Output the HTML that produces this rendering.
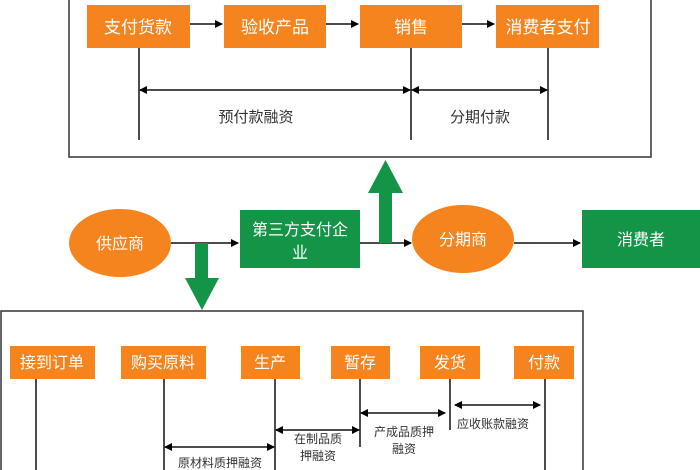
<!DOCTYPE html><html><head><meta charset="utf-8"><style>body{margin:0;background:#fff}svg{display:block}text{font-family:"Liberation Sans","Noto Sans CJK SC",sans-serif}</style></head><body>
<svg width="700" height="470" viewBox="0 0 700 470" xmlns="http://www.w3.org/2000/svg">
<defs><marker id="a" markerWidth="8" markerHeight="8" refX="7" refY="4" orient="auto-start-reverse" markerUnits="userSpaceOnUse"><path d="M0,0 L8,4 L0,8 Z" fill="#000"/></marker></defs>
<rect x="69" y="-5" width="582" height="162" fill="none" stroke="#333" stroke-width="1.5"/>
<g fill="#F5841F"><rect x="87" y="5" width="103" height="43"/><rect x="224" y="5" width="102" height="43"/><rect x="360" y="5" width="102" height="43"/><rect x="496" y="5" width="103" height="43"/></g>
<g fill="#fff" font-size="17" text-anchor="middle"><text x="138" y="33">支付货款</text><text x="275" y="33">验收产品</text><text x="411" y="33">销售</text><text x="548" y="33">消费者支付</text></g>
<g stroke="#111" stroke-width="1.5" fill="none"><line x1="190" y1="24" x2="222" y2="24" marker-end="url(#a)"/><line x1="326" y1="24" x2="358" y2="24" marker-end="url(#a)"/><line x1="462" y1="24" x2="494" y2="24" marker-end="url(#a)"/>
<line x1="139" y1="48" x2="139" y2="140"/><line x1="411" y1="48" x2="411" y2="140"/><line x1="548" y1="48" x2="548" y2="140"/>
<line x1="140" y1="90" x2="410" y2="90" marker-start="url(#a)" marker-end="url(#a)"/><line x1="412" y1="90" x2="547" y2="90" marker-start="url(#a)" marker-end="url(#a)"/></g>
<g fill="#333" font-size="15" text-anchor="middle"><text x="256" y="122">预付款融资</text><text x="480" y="122">分期付款</text></g>
<g stroke="#111" stroke-width="1.5"><line x1="171" y1="243" x2="238" y2="243" marker-end="url(#a)"/><line x1="360" y1="243" x2="411" y2="243" marker-end="url(#a)"/><line x1="514" y1="243" x2="580" y2="243" marker-end="url(#a)"/></g>
<ellipse cx="120" cy="243" rx="51" ry="34" fill="#F5841F"/><ellipse cx="463" cy="239" rx="51" ry="34" fill="#F5841F"/>
<rect x="240" y="210" width="120" height="58" fill="#139447"/><rect x="582" y="210" width="118" height="58" fill="#139447"/>
<path d="M379,243 L379,193 L368,193 L385.5,160 L403,193 L392,193 L392,243 Z" fill="#139447"/>
<path d="M195,243 L195,278 L185,278 L202,310 L219,278 L208,278 L208,243 Z" fill="#139447"/>
<g fill="#fff" font-size="16" text-anchor="middle"><text x="120" y="249">供应商</text><text x="300" y="235">第三方支付企</text><text x="300" y="258">业</text><text x="463" y="245">分期商</text><text x="641" y="245">消费者</text></g>
<rect x="1" y="311" width="582" height="170" fill="none" stroke="#333" stroke-width="1.5"/>
<g fill="#F5841F"><rect x="10" y="346" width="85" height="33"/><rect x="121" y="346" width="85" height="33"/><rect x="241" y="346" width="59" height="33"/><rect x="331" y="346" width="59" height="33"/><rect x="420" y="346" width="60" height="33"/><rect x="514" y="346" width="60" height="33"/></g>
<g fill="#fff" font-size="16" text-anchor="middle"><text x="52" y="368">接到订单</text><text x="163" y="368">购买原料</text><text x="270" y="368">生产</text><text x="360" y="368">暂存</text><text x="450" y="368">发货</text><text x="544" y="368">付款</text></g>
<g stroke="#111" stroke-width="1.5" fill="none"><line x1="36" y1="379" x2="36" y2="470"/><line x1="164" y1="379" x2="164" y2="470"/><line x1="275" y1="379" x2="275" y2="470"/><line x1="360" y1="379" x2="360" y2="447"/><line x1="450" y1="379" x2="450" y2="430"/><line x1="545" y1="379" x2="545" y2="470"/>
<line x1="165" y1="447" x2="274" y2="447" marker-start="url(#a)" marker-end="url(#a)"/><line x1="276" y1="430" x2="359" y2="430" marker-start="url(#a)" marker-end="url(#a)"/><line x1="361" y1="413" x2="445" y2="413" marker-start="url(#a)" marker-end="url(#a)"/><line x1="455" y1="405" x2="540" y2="405" marker-start="url(#a)" marker-end="url(#a)"/></g>
<g fill="#333" font-size="12" text-anchor="middle"><text x="220" y="467">原材料质押融资</text><text x="318" y="443">在制品质</text><text x="318" y="460">押融资</text><text x="404" y="436">产成品质押</text><text x="404" y="453">融资</text><text x="493" y="428">应收账款融资</text></g>
</svg></body></html>
